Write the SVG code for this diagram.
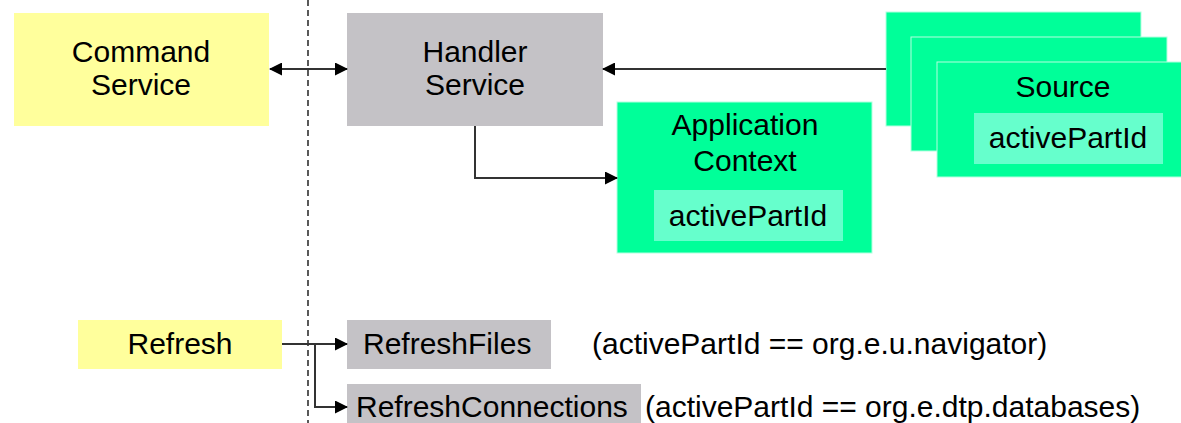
<svg xmlns="http://www.w3.org/2000/svg" width="1181" height="423" viewBox="0 0 1181 423">
  <defs>
    <marker id="arrow" markerWidth="13" markerHeight="13" refX="12" refY="6.5" orient="auto-start-reverse" markerUnits="userSpaceOnUse">
      <path d="M0,0 L13,6.5 L0,13 Z" fill="#000"/>
    </marker>
  </defs>
  <style>
    text { font-family: "Liberation Sans", Arial, sans-serif; font-size: 30px; fill: #000; }
    .c { text-anchor: middle; }
    .yellow { fill: #FFFF9C; }
    .gray { fill: #C4C2C6; }
    .green { fill: #00FF99; stroke: #B3FFE0; stroke-width: 1; }
    .inner { fill: #66FFCC; }
    .link { fill: none; stroke: #333; stroke-width: 2; }
  </style>
  <rect width="1181" height="423" fill="#fff"/>

  <!-- boundary -->
  <line x1="308" y1="0" x2="308" y2="423" stroke="#000" stroke-width="1.3" stroke-dasharray="6,4"/>

  <g id="command-service">
    <rect class="yellow" x="14" y="13" width="255" height="113"/>
    <text class="c" x="141" y="62">Command</text>
    <text class="c" x="141" y="95">Service</text>
  </g>

  <g id="handler-service">
    <rect class="gray" x="347" y="13" width="256" height="113"/>
    <text class="c" x="475" y="62">Handler</text>
    <text class="c" x="475" y="95">Service</text>
  </g>

  <g id="application-context">
    <rect class="green" x="617" y="102" width="255" height="151"/>
    <text class="c" x="745" y="135">Application</text>
    <text class="c" x="745" y="171">Context</text>
    <rect class="inner" x="654" y="190" width="189" height="51"/>
    <text class="c" x="748" y="226">activePartId</text>
  </g>

  <g id="source">
    <rect class="green" x="886" y="12" width="255" height="114"/>
    <rect class="green" x="911" y="37" width="256" height="114"/>
    <rect class="green" x="937" y="62" width="256" height="115"/>
    <text class="c" x="1063" y="97">Source</text>
    <rect class="inner" x="974" y="113" width="189" height="51"/>
    <text class="c" x="1068" y="148">activePartId</text>
  </g>

  <g id="refresh">
    <rect class="yellow" x="78" y="320" width="204" height="49"/>
    <text class="c" x="180" y="354">Refresh</text>
  </g>

  <g id="refresh-files">
    <rect class="gray" x="347" y="320" width="204" height="49"/>
    <text x="363" y="354">RefreshFiles</text>
    <text x="592" y="354">(activePartId == org.e.u.navigator)</text>
  </g>

  <g id="refresh-connections">
    <rect class="gray" x="347" y="384" width="294" height="45"/>
    <text x="356" y="417">RefreshConnections</text>
    <text x="645" y="417">(activePartId == org.e.dtp.databases)</text>
  </g>

  <g id="connectors">
    <line class="link" x1="270" y1="69" x2="347" y2="69" marker-start="url(#arrow)" marker-end="url(#arrow)"/>
    <line class="link" x1="886" y1="69" x2="603" y2="69" marker-end="url(#arrow)"/>
    <polyline class="link" points="475,126 475,178 617,178" marker-end="url(#arrow)"/>
    <line class="link" x1="282" y1="344" x2="347" y2="344" marker-end="url(#arrow)"/>
    <polyline class="link" points="315,344 315,407 347,407" marker-end="url(#arrow)"/>
  </g>
</svg>
